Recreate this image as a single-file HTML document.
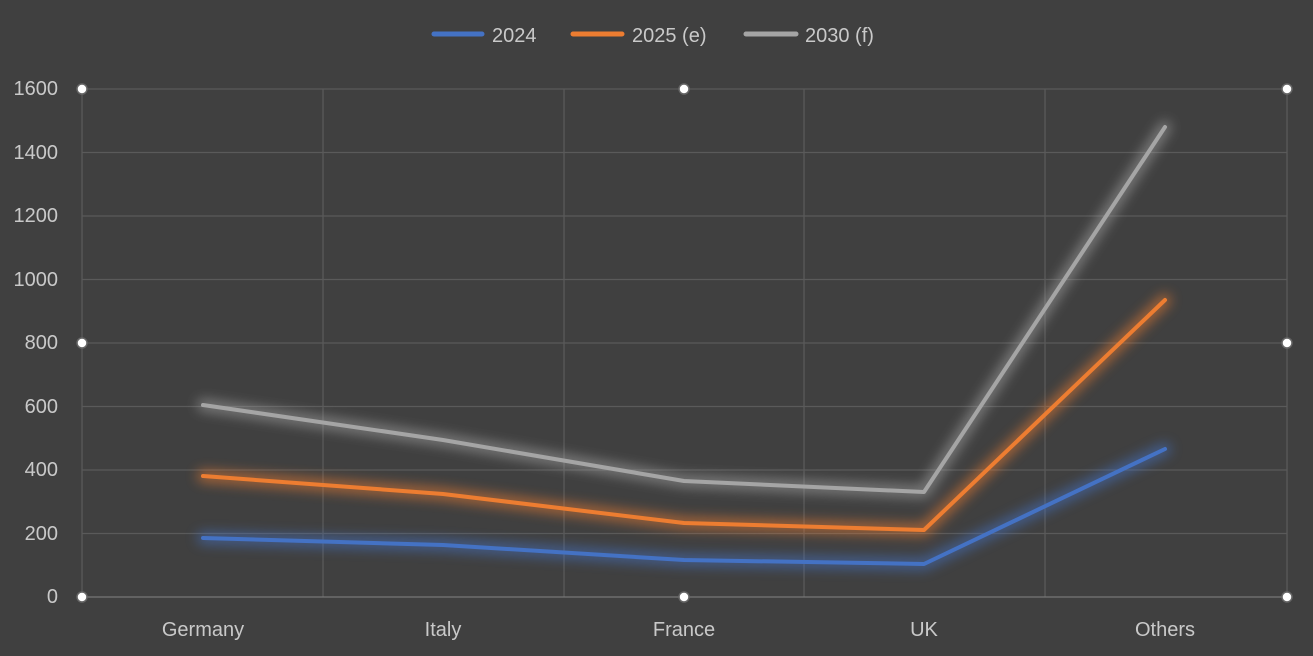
<!DOCTYPE html>
<html><head><style>
html,body{margin:0;padding:0;background:#404040;}
svg{display:block}
text{font-family:"Liberation Sans",sans-serif;fill:#c9c9c9;font-size:20px}
</style></head><body>
<svg width="1313" height="656" viewBox="0 0 1313 656">
<defs>
<filter id="gb" x="-20%" y="-50%" width="140%" height="200%"><feGaussianBlur stdDeviation="6"/></filter>
</defs>
<rect width="1313" height="656" fill="#404040"/>
<g stroke="#5a5a5a" stroke-width="1.3">
<line x1="82" y1="89" x2="1287" y2="89"/>
<line x1="82" y1="152.5" x2="1287" y2="152.5"/>
<line x1="82" y1="216" x2="1287" y2="216"/>
<line x1="82" y1="279.5" x2="1287" y2="279.5"/>
<line x1="82" y1="343" x2="1287" y2="343"/>
<line x1="82" y1="406.5" x2="1287" y2="406.5"/>
<line x1="82" y1="470" x2="1287" y2="470"/>
<line x1="82" y1="533.5" x2="1287" y2="533.5"/>
<line x1="82" y1="89" x2="82" y2="597"/>
<line x1="323" y1="89" x2="323" y2="597"/>
<line x1="564" y1="89" x2="564" y2="597"/>
<line x1="804" y1="89" x2="804" y2="597"/>
<line x1="1045" y1="89" x2="1045" y2="597"/>
<line x1="1287" y1="89" x2="1287" y2="597"/>
</g>
<line x1="82" y1="597" x2="1287" y2="597" stroke="#777" stroke-width="1.3"/>
<g text-anchor="end">
<text x="58" y="95">1600</text><text x="58" y="159">1400</text><text x="58" y="222">1200</text>
<text x="58" y="286">1000</text><text x="58" y="349">800</text><text x="58" y="413">600</text>
<text x="58" y="476">400</text><text x="58" y="540">200</text><text x="58" y="603">0</text>
</g>
<g text-anchor="middle">
<text x="203" y="636">Germany</text><text x="443" y="636">Italy</text><text x="684" y="636">France</text>
<text x="924" y="636">UK</text><text x="1165" y="636">Others</text>
</g>
<g fill="none" stroke-width="12" stroke-linejoin="round" stroke-linecap="round" opacity="0.6" filter="url(#gb)">
<polyline stroke="#4472c4" points="203,538 443,545 684,560 924,564 1165,449"/>
<polyline stroke="#ed7d31" points="203,476 443,494 684,523 924,530 1165,300"/>
<polyline stroke="#a5a5a5" points="203,405 443,440 684,481 924,492 1165,127"/>
</g>
<g fill="none" stroke-width="4" stroke-linejoin="round" stroke-linecap="round">
<polyline stroke="#4472c4" points="203,538 443,545 684,560 924,564 1165,449"/>
<polyline stroke="#ed7d31" points="203,476 443,494 684,523 924,530 1165,300"/>
<polyline stroke="#a5a5a5" points="203,405 443,440 684,481 924,492 1165,127"/>
</g>
<g fill="#fff" stroke="#666" stroke-width="1.5">
<circle cx="82" cy="89" r="5"/><circle cx="684" cy="89" r="5"/><circle cx="1287" cy="89" r="5"/>
<circle cx="82" cy="343" r="5"/><circle cx="1287" cy="343" r="5"/>
<circle cx="82" cy="597" r="5"/><circle cx="684" cy="597" r="5"/><circle cx="1287" cy="597" r="5"/>
</g>
<g stroke-width="5" stroke-linecap="round">
<line x1="434" y1="34" x2="482" y2="34" stroke="#4472c4"/>
<line x1="573" y1="34" x2="622" y2="34" stroke="#ed7d31"/>
<line x1="746" y1="34" x2="796" y2="34" stroke="#a5a5a5"/>
</g>
<text x="492" y="42">2024</text>
<text x="632" y="42">2025 (e)</text>
<text x="805" y="42">2030 (f)</text>
</svg>
</body></html>
